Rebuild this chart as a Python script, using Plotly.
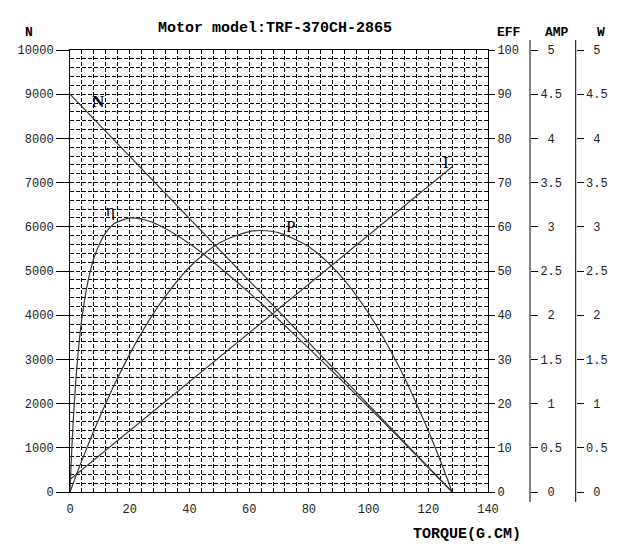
import plotly.graph_objects as go

# ---- data ----
torque_line = [0, 128]
speed_rpm = [9000, 0]
current_a = [0.14, 3.68]

torque = [0, 0.5, 1, 2, 3, 4, 6, 8, 10, 12, 15, 20, 25, 30, 40, 50, 60, 64,
          70, 80, 90, 100, 110, 120, 125, 128]
efficiency = [0, 8.2, 15.1, 25.7, 33.5, 39.4, 47.6, 52.9, 56.3, 58.7, 60.8, 62.0,
              61.6, 60.3, 56.2, 50.9, 45.1, 42.7, 38.9, 32.5, 25.9, 19.2, 12.4,
              5.5, 2.1, 0]
power_w = [0, 0.046, 0.092, 0.182, 0.271, 0.358, 0.529, 0.693, 0.852, 1.005, 1.224,
           1.560, 1.859, 2.123, 2.542, 2.816, 2.946, 2.958, 2.932, 2.773, 2.470,
           2.022, 1.430, 0.693, 0.271, 0]

x_ticks = [0, 20, 40, 60, 80, 100, 120, 140]
n_ticks = list(range(0, 10001, 1000))
eff_ticks = list(range(0, 101, 10))
amp_ticks = [0, 0.5, 1, 1.5, 2, 2.5, 3, 3.5, 4, 4.5, 5]

# ---- layout geometry ----
W, H = 621, 556
ML, MR, MT, MB = 70, 0, 50, 64
PW = W - ML - MR
PH = H - MT - MB
X_END = 488


def px(xp):
    return (xp - ML) / PW


def py(yp):
    return (MT + PH - yp) / PH


LINE = "#3a3a3a"
TICKFONT = dict(family="Liberation Mono", size=12, color="#222")

fig = go.Figure()
fig.add_trace(go.Scatter(x=torque_line, y=speed_rpm, mode="lines",
                         line=dict(color=LINE, width=1.2), yaxis="y", name="N"))
fig.add_trace(go.Scatter(x=torque, y=efficiency, mode="lines",
                         line=dict(color=LINE, width=1.2, shape="spline", smoothing=0.7),
                         yaxis="y2", name="η"))
fig.add_trace(go.Scatter(x=torque_line, y=current_a, mode="lines",
                         line=dict(color=LINE, width=1.2), yaxis="y3", name="I"))
fig.add_trace(go.Scatter(x=torque, y=power_w, mode="lines",
                         line=dict(color=LINE, width=1.2, shape="spline", smoothing=0.8),
                         yaxis="y4", name="P"))

grid = dict(gridcolor="black", gridwidth=1, griddash="4px,2px")


def amp_text(v):
    s = ("%g" % v)
    return s if len(s) == 3 else "\u00a0" + s


fig.update_layout(
    width=W, height=H,
    margin=dict(l=ML, r=MR, t=MT, b=MB),
    paper_bgcolor="white", plot_bgcolor="white",
    showlegend=False,
    xaxis=dict(domain=[0, (X_END - ML) / PW], range=[0, 140], automargin=False,
               tickvals=x_ticks, ticks="outside", ticklen=6,
               tickcolor="rgba(0,0,0,0)", showgrid=True, **grid,
               minor=dict(dtick=4, showgrid=True, ticks="", **grid),
               showline=True, linecolor="black", linewidth=1, mirror=True,
               zeroline=False, tickfont=TICKFONT),
    yaxis=dict(range=[0, 10000], tickvals=n_ticks, ticktext=[str(v) for v in n_ticks],
               ticks="outside", ticklen=13, automargin=False,
               tickcolor="black", showgrid=True, **grid,
               minor=dict(dtick=200, showgrid=True, ticks="", **grid),
               showline=True, linecolor="black", linewidth=1, mirror=True,
               zeroline=False, tickfont=TICKFONT),
    yaxis2=dict(range=[0, 100], tickvals=eff_ticks, overlaying="y", side="right",
                anchor="x", ticks="outside", ticklen=6, tickcolor="black",
                automargin=False,
                showgrid=False, zeroline=False, showline=False, tickfont=TICKFONT),
    yaxis3=dict(range=[0, 5], tickvals=amp_ticks,
                ticktext=[amp_text(v) for v in amp_ticks],
                overlaying="y", side="right", anchor="free", automargin=False,
                position=px(530), ticks="outside", ticklen=7, tickcolor="black",
                showgrid=False, zeroline=False, showline=False, tickfont=TICKFONT),
    yaxis4=dict(range=[0, 5], tickvals=amp_ticks,
                ticktext=[amp_text(v) for v in amp_ticks],
                overlaying="y", side="right", anchor="free", automargin=False,
                position=px(575.7), ticks="outside", ticklen=7, tickcolor="black",
                showgrid=False, zeroline=False, showline=False, tickfont=TICKFONT),
)

for xp in (530, 575.7):
    fig.add_shape(type="line", xref="paper", yref="paper",
                  x0=px(xp), x1=px(xp), y0=py(502), y1=py(40),
                  line=dict(color="black", width=1))

HEAD = dict(family="Liberation Mono", size=13, color="black")
anns = [
    ("<b>Motor model:TRF-370CH-2865</b>", 275, 29, dict(family="Liberation Mono", size=15, color="black")),
    ("<b>N</b>", 29, 33, HEAD),
    ("<b>EFF</b>", 509, 33, HEAD),
    ("<b>AMP</b>", 557, 33, HEAD),
    ("<b>W</b>", 601, 33, HEAD),
    ("<b>TORQUE(G.CM)</b>", 467, 534, dict(family="Liberation Mono", size=15, color="black")),
]
for text, xp, yp, f in anns:
    fig.add_annotation(text=text, xref="paper", yref="paper", x=px(xp), y=py(yp),
                       showarrow=False, font=f, xanchor="center", yanchor="middle")

LBL = dict(family="Liberation Serif", size=17, color="black")
curve_labels = [("<b>N</b>", 9.7, 8846), ("η", 13.7, 6380), ("P", 74, 6018), ("I", 126, 7466)]
for text, xv, yv in curve_labels:
    fig.add_annotation(text=text, x=xv, y=yv, xref="x", yref="y", showarrow=False,
                       font=LBL, xanchor="center", yanchor="middle")

fig.write_html("out.html")
